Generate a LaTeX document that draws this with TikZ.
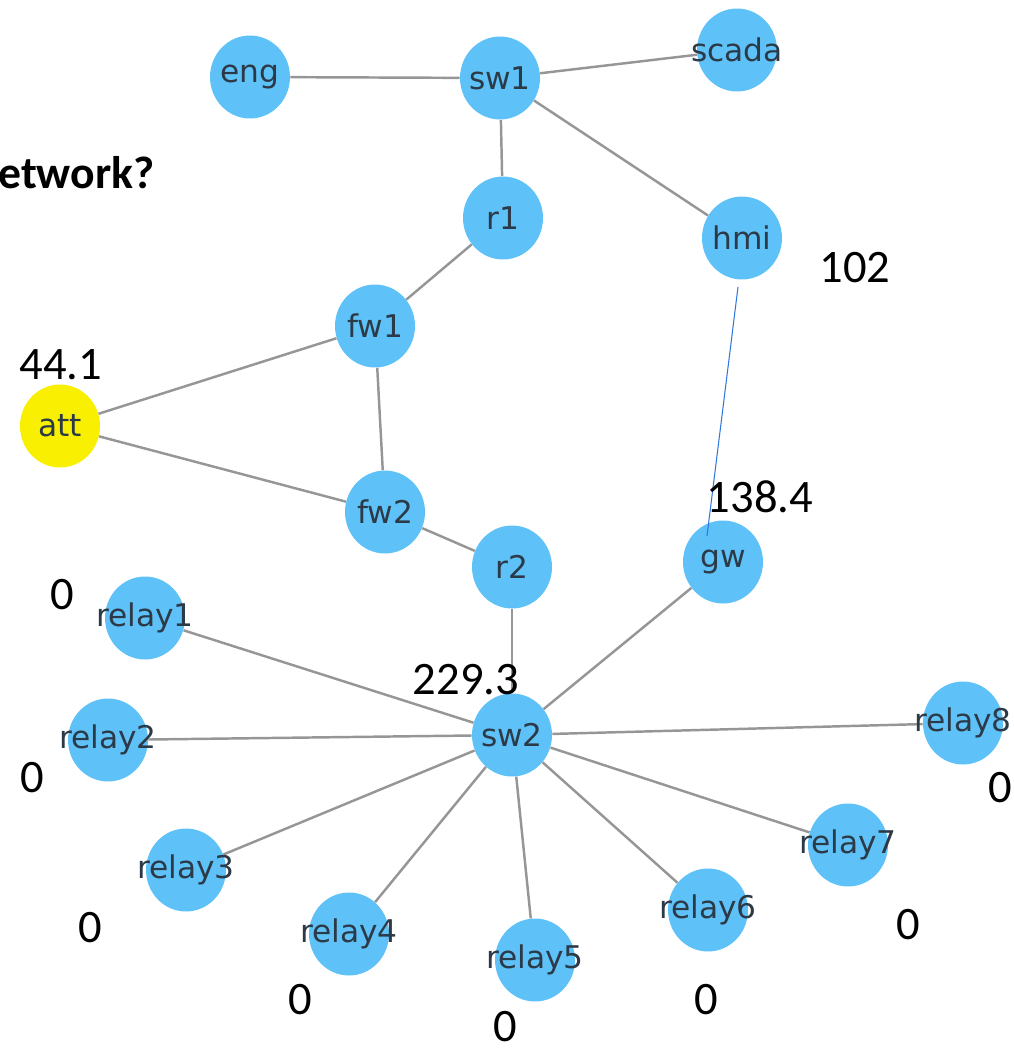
\documentclass[tikz,border=0pt]{standalone}
\usepackage{fontspec}
\setmainfont{Carlito}
\newfontfamily\lblfont{DejaVu Sans}
\usetikzlibrary{shapes.geometric}
\definecolor{nodeblue}{RGB}{94,193,247}
\definecolor{attyellow}{RGB}{248,240,0}
\definecolor{edgegray}{RGB}{150,150,150}
\definecolor{lbltext}{RGB}{44,58,72}
\definecolor{thinblue}{RGB}{50,120,220}
\tikzset{
  vnode/.style={ellipse, fill=nodeblue, draw=none, minimum width=1.6cm, minimum height=1.66cm, inner sep=0pt},
  attnode/.style={vnode, fill=attyellow},
  vlabel/.style={font=\lblfont\fontsize{17.8}{20}\selectfont, text=lbltext, inner sep=0pt},
  edge/.style={draw=edgegray, line width=1.4pt},
  score/.style={font=\fontsize{26.5}{30}\selectfont, text=black, inner sep=0pt},
  title/.style={font=\bfseries\fontsize{26}{30}\selectfont, text=black, inner sep=0pt, anchor=west}
}
\begin{document}
\begin{tikzpicture}[x=0.02cm, y=-0.02cm]
\useasboundingbox (0,0) rectangle (1014,1052);
% nodes
\foreach \n/\x/\y in {eng/250/77, sw1/500/78, scada/737/50, r1/503/218, hmi/742/238,
  fw1/375/326, fw2/385/512, r2/512/567, gw/723/562, relay1/145/618, relay2/108/740,
  sw2/512/735, relay8/963/723, relay3/186/870, relay7/848/845, relay4/349/934,
  relay6/708/910, relay5/535/960}
  {\node[vnode] (\n) at (\x,\y) {};}
\node[attnode] (att) at (60,426) {};
% edges
\foreach \a/\b in {eng/sw1, sw1/scada, sw1/r1, sw1/hmi, r1/fw1, fw1/att, fw1/fw2,
  att/fw2, fw2/r2, r2/sw2, gw/sw2, sw2/relay1, sw2/relay2, sw2/relay3, sw2/relay4,
  sw2/relay5, sw2/relay6, sw2/relay7, sw2/relay8}
  {\draw[edge] (\a) -- (\b);}
% thin blue line hmi -> gw
\coordinate (hmiend) at (738,287);
\coordinate (gwend) at (707,536);
\draw[thinblue, line width=0.6pt] (hmiend) -- (gwend);
% labels
\foreach \n in {eng, sw1, scada, r1, hmi, fw1, fw2, r2, gw, relay1, relay2, sw2,
  relay8, relay3, relay7, relay4, relay6, relay5, att}
  {\node[vlabel] (\n-lbl) at (\n.center) {\n};}
% scores
\node[score] (s-att) at (61,365) {44.1};
\node[score] (s-hmi) at (855,268) {102};
\node[score] (s-gw) at (760,497) {138.4};
\node[score] (s-r1) at (62,595) {0};
\node[score] (s-sw2) at (466,680) {229.3};
\node[score] (s-r2) at (32,778) {0};
\node[score] (s-r8) at (1000,788) {0};
\node[score] (s-r3) at (90,928) {0};
\node[score] (s-r7) at (908,925) {0};
\node[score] (s-r4) at (300,1000) {0};
\node[score] (s-r6) at (706,1000) {0};
\node[score] (s-r5) at (505,1027) {0};
% title fragment
\node[title] (ttl) at (-2,173) {etwork?};
\end{tikzpicture}
\end{document}
